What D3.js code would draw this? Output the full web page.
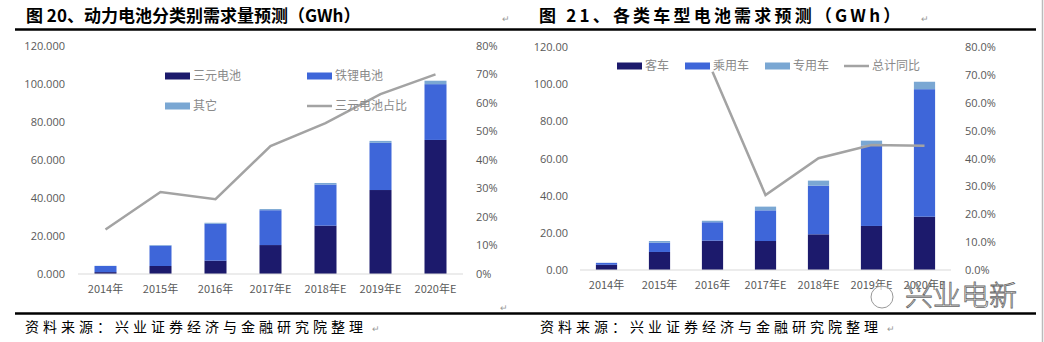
<!DOCTYPE html>
<html><head><meta charset="utf-8">
<script src="https://cdn.jsdelivr.net/npm/d3@7/dist/d3.min.js"></script>
<style>
body{margin:0;background:#fff;}
svg{display:block;}
text{font-family:"Noto Sans CJK SC","Noto Sans",sans-serif;}
</style></head>
<body>
<svg id="c" width="1044" height="342"></svg>
<script>
// ---- data ----
const years = ["2014年","2015年","2016年","2017年E","2018年E","2019年E","2020年E"];
// Chart 20
const ternary = [1.0, 4.2, 7.0, 15.2, 25.4, 44.1, 70.4];
const lfp     = [3.2, 10.7, 19.4, 18.3, 21.6, 24.8, 29.3];
const others  = [0.1, 0.3, 0.5, 0.6, 0.8, 1.0, 1.8];
const ternaryShare = [15.6, 28.7, 26.2, 44.8, 52.8, 63.0, 69.9];
const leftTicks20 = [0,20,40,60,80,100,120];
const rightTicks20 = [0,10,20,30,40,50,60,70,80];
// Chart 21
const bus     = [2.8, 9.7, 15.8, 15.6, 19.2, 23.7, 28.7];
const car     = [1.0, 5.0, 9.9, 16.5, 26.2, 43.2, 68.6];
const special = [0.1, 0.9, 0.8, 2.0, 2.7, 2.7, 4.0];
const totalYoY = [null, null, 71.1, 26.9, 40.1, 44.8, 44.6];
const leftTicks21 = [0,20,40,60,80,100,120];
const rightTicks21 = [0,10,20,30,40,50,60,70,80];

const C_DARK="#1c1a6c", C_MID="#3e66d9", C_LIGHT="#7aa7d3", C_LINE="#a3a3a3", C_TXT="#595959";

const svg = d3.select("#c");

function drawChart(cfg){
  const g = svg.append("g");
  const x = d3.scaleBand().domain(years).range([cfg.x0, cfg.x1]).paddingInner(0.6).paddingOuter(0.3);
  const y = d3.scaleLinear().domain([0,120]).range([cfg.yb, cfg.yt]);
  const y2 = d3.scaleLinear().domain([0,80]).range([cfg.yb, cfg.yt]);
  const rows = years.map((yr,i)=>({yr, a:cfg.s[0][i], b:cfg.s[1][i], c:cfg.s[2][i]}));
  const stack = d3.stack().keys(["a","b","c"])(rows);
  const cols = [C_DARK, C_MID, C_LIGHT];
  stack.forEach((layer,k)=>{
    g.selectAll(null).data(layer).enter().append("rect")
      .attr("x", d=>x(d.data.yr)).attr("width", x.bandwidth())
      .attr("y", d=>y(d[1])).attr("height", d=>y(d[0])-y(d[1]))
      .attr("fill", cols[k]);
  });
  g.append("line").attr("x1",cfg.x0).attr("x2",cfg.x1).attr("y1",y(0)).attr("y2",y(0))
    .attr("stroke","#d9d9d9").attr("stroke-width",1);
  const la = g.append("g").attr("transform",`translate(${cfg.lx},0)`)
    .call(d3.axisLeft(y).tickValues(cfg.lt).tickSize(0).tickFormat(d=>d3.format(cfg.lf)(d)));
  la.select(".domain").remove();
  la.selectAll("text").attr("fill",C_TXT).style("font-size","11px").style("font-family","'Open Sans','Noto Sans',sans-serif");
  const ra = g.append("g").attr("transform",`translate(${cfg.rx},0)`)
    .call(d3.axisRight(y2).tickValues(cfg.rt).tickSize(0).tickFormat(d=>d3.format(cfg.rf)(d/100)));
  ra.select(".domain").remove();
  ra.selectAll("text").attr("fill",C_TXT).style("font-size","11px").style("font-family","'Open Sans','Noto Sans',sans-serif");
  const ba = g.append("g").attr("transform",`translate(0,${y(0)+8})`)
    .call(d3.axisBottom(x).tickSize(0));
  ba.select(".domain").remove();
  ba.selectAll("text").attr("fill",C_TXT).style("font-size","11px");
  const line = d3.line().defined(d=>d.v!=null).x(d=>x(d.yr)+x.bandwidth()/2).y(d=>y2(d.v));
  g.append("path").datum(years.map((yr,i)=>({yr, v:cfg.line[i]})))
    .attr("d", line).attr("fill","none").attr("stroke",C_LINE).attr("stroke-width",2.5);
  cfg.legend.forEach(l=>{
    if(l.type==="line"){
      g.append("line").attr("x1",l.x).attr("x2",l.x+25).attr("y1",l.y).attr("y2",l.y)
        .attr("stroke",C_LINE).attr("stroke-width",2.5);
    } else {
      g.append("rect").attr("x",l.x).attr("y",l.y-3.5).attr("width",25).attr("height",7).attr("fill",l.c);
    }
    g.append("text").attr("x",l.x+28).attr("y",l.y).attr("dy","0.35em")
      .attr("fill","#8a8a8a").style("font-size","12px").text(l.t);
  });
}

drawChart({
  x0:78, x1:463, yb:274, yt:45.5, lx:68, rx:473,
  s:[ternary, lfp, others], line:ternaryShare,
  lt:leftTicks20, rt:rightTicks20, lf:".3f", rf:".0%",
  legend:[
    {x:165,y:76,c:C_DARK,t:"三元电池"},
    {x:307,y:76,c:C_MID,t:"铁锂电池"},
    {x:165,y:106,c:C_LIGHT,t:"其它"},
    {x:307,y:106,type:"line",t:"三元电池占比"}
  ]
});
drawChart({
  x0:580, x1:951, yb:270, yt:47, lx:571, rx:962,
  s:[bus, car, special], line:totalYoY,
  lt:leftTicks21, rt:rightTicks21, lf:".2f", rf:".1%",
  legend:[
    {x:617,y:66,c:C_DARK,t:"客车"},
    {x:685,y:66,c:C_MID,t:"乘用车"},
    {x:765,y:66,c:C_LIGHT,t:"专用车"},
    {x:844,y:66,type:"line",t:"总计同比"}
  ]
});

const titleStyle = s=>s.attr("fill","#000").style("font-size","17px").style("font-weight","bold")
  .style("font-family","'Noto Sans CJK SC','Liberation Serif',serif");
svg.append("text").attr("x",26).attr("y",22).text("图 20、动力电池分类别需求量预测（GWh）").call(titleStyle);
svg.append("text").attr("x",539).attr("y",22).text("图 21、各类车型电池需求预测（GWh）").call(titleStyle)
  .style("letter-spacing","3.2px");
svg.append("line").attr("x1",15).attr("x2",1036).attr("y1",29.5).attr("y2",29.5).attr("stroke","#000").attr("stroke-width",2.5);
svg.append("line").attr("x1",15).attr("x2",1036).attr("y1",313.5).attr("y2",313.5).attr("stroke","#000").attr("stroke-width",2.5);
svg.append("line").attr("x1",1042.5).attr("x2",1042.5).attr("y1",0).attr("y2",342).attr("stroke","#bbb").attr("stroke-width",1.5);

const srcStyle = s=>s.attr("fill","#000").style("font-size","14px").style("letter-spacing","4px");
svg.append("text").attr("x",25).attr("y",332).text("资料来源：兴业证券经济与金融研究院整理").call(srcStyle);
svg.append("text").attr("x",540).attr("y",332).text("资料来源：兴业证券经济与金融研究院整理").call(srcStyle);

const retStyle = s=>s.attr("fill","#999").style("font-size","9px");
[[502,22],[921,22],[500,311],[372,332],[887,332]].forEach(p=>{
  svg.append("text").attr("x",p[0]).attr("y",p[1]).text("↵").call(retStyle);
});

// watermark
svg.append("text").attr("x",905).attr("y",306).text("兴业电新")
  .attr("fill","#fff").attr("fill-opacity",0.85).attr("stroke","#666").attr("stroke-width",0.8)
  .style("font-size","28px").style("font-weight","300");
svg.append("circle").attr("cx",882).attr("cy",297).attr("r",11).attr("fill","#fff").attr("fill-opacity",0.6)
  .attr("stroke","#999").attr("stroke-width",1);
</script>
</body></html>
